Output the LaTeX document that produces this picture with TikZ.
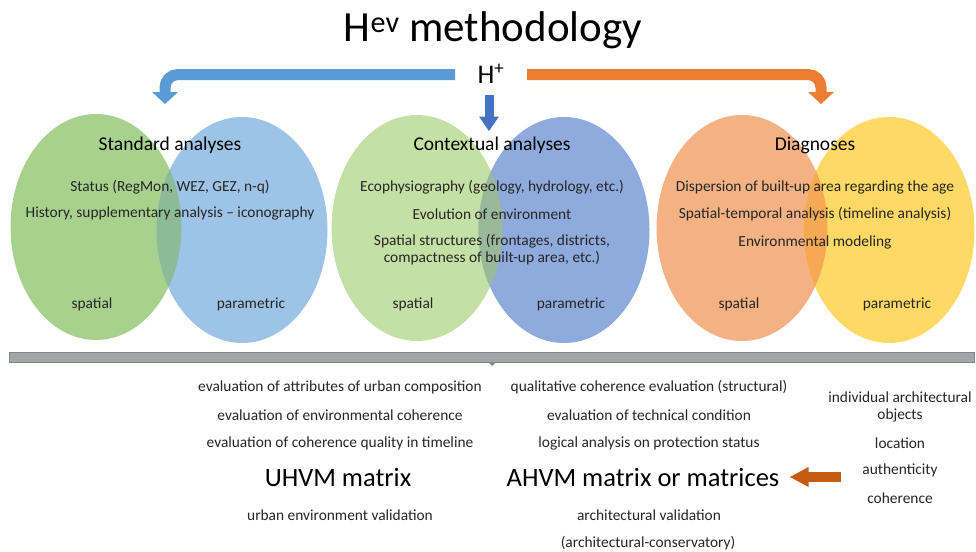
\documentclass[tikz,border=0pt]{standalone}
\usepackage{fontspec}
\setmainfont{Carlito}
\usetikzlibrary{shapes.geometric}
\definecolor{greenA}{HTML}{A9D18E}
\definecolor{blueA}{HTML}{9DC3E6}
\definecolor{mixA}{HTML}{8CBB97}
\definecolor{greenB}{HTML}{C5E0A5}
\definecolor{blueB}{HTML}{8FAADC}
\definecolor{mixB}{HTML}{99B99A}
\definecolor{orangeC}{HTML}{F4B183}
\definecolor{yellowC}{HTML}{FFD966}
\definecolor{mixC}{HTML}{F5A952}
\definecolor{barblue}{HTML}{5B9BD5}
\definecolor{barorange}{HTML}{ED7D31}
\definecolor{downblue}{HTML}{4472C4}
\definecolor{darkorange}{HTML}{C55A11}
\definecolor{barfill}{HTML}{A5A5A5}
\definecolor{barline}{HTML}{7B8794}
\definecolor{txt}{HTML}{262626}
\tikzset{
  venn/.style={ellipse, minimum width=171pt, minimum height=226pt, inner sep=0pt},
  body/.style={text=txt, font=\fontsize{15.4}{17}\selectfont, inner sep=0pt, align=center},
  head/.style={text=black, font=\fontsize{19.5}{22}\selectfont, inner sep=0pt},
  big/.style={text=black, font=\fontsize{26.5}{30}\selectfont, inner sep=0pt},
}
\begin{document}
\begin{tikzpicture}[x=1pt, y=-1pt]
\useasboundingbox (0,0) rectangle (976,551);
\fill[white] (0,0) rectangle (976,551);

% title and source label
\node[text=black, font=\fontsize{43}{46}\selectfont, inner sep=0pt] (title) at (493,30) {H\textsuperscript{ev} methodology};
\node[text=black, font=\fontsize{27}{30}\selectfont, inner sep=0pt] (hplus) at (491,74) {H\textsuperscript{+}};

% three Venn pairs
\node[venn, fill=greenA] (g1) at (96,227) {};
\node[venn, fill=blueA] (b1) at (242,230) {};
\begin{scope}
  \clip (96,227) ellipse [x radius=85.5, y radius=113];
  \fill[mixA] (242,230) ellipse [x radius=85.5, y radius=113];
\end{scope}
\node[venn, fill=greenB] (g2) at (417,228) {};
\node[venn, fill=blueB] (b2) at (564,230) {};
\begin{scope}
  \clip (417,228) ellipse [x radius=85.5, y radius=113];
  \fill[mixB] (564,230) ellipse [x radius=85.5, y radius=113];
\end{scope}
\node[venn, fill=orangeC] (o3) at (742,228) {};
\node[venn, fill=yellowC] (y3) at (889,230) {};
\begin{scope}
  \clip (742,228) ellipse [x radius=85.5, y radius=113];
  \fill[mixC] (889,230) ellipse [x radius=85.5, y radius=113];
\end{scope}

% bent arrows from H+
\coordinate (lefttip) at (165,104);
\coordinate (righttip) at (821,104);
\draw[barblue, line width=11pt, rounded corners=13pt] (455,74.5) -- (165,74.5) -- (165,93);
\fill[barblue] (152,92) -- (178,92) -- (lefttip) -- cycle;
\draw[barorange, line width=11pt, rounded corners=13pt] (527,74.5) -- (821,74.5) -- (821,93);
\fill[barorange] (808,92) -- (834,92) -- (righttip) -- cycle;
\coordinate (downtip) at (489,131);
\fill[downblue] (484.5,95) rectangle (493.5,117);
\fill[downblue] (479,116.5) -- (499,116.5) -- (downtip) -- cycle;

% group 1 texts
\node[head] (t1) at (170,145) {Standard analyses};
\node[body] (t1a) at (170,187) {Status (RegMon, WEZ, GEZ, n-q)};
\node[body] (t1b) at (170,213) {History, supplementary analysis -- iconography};
\node[body] (s1) at (92,304) {spatial};
\node[body] (p1) at (251,304) {parametric};

% group 2 texts
\node[head] (t2) at (492,145) {Contextual analyses};
\node[body] (t2a) at (492,187) {Ecophysiography (geology, hydrology, etc.)};
\node[body] (t2b) at (492,214) {Evolution of environment};
\node[body] (t2c) at (492,250) {Spatial structures (frontages, districts,\\compactness of built-up area, etc.)};
\node[body] (s2) at (413,304) {spatial};
\node[body] (p2) at (571,304) {parametric};

% group 3 texts
\node[head] (t3) at (815,145) {Diagnoses};
\node[body] (t3a) at (815,187) {Dispersion of built-up area regarding the age};
\node[body] (t3b) at (815,214) {Spatial-temporal analysis (timeline analysis)};
\node[body] (t3c) at (815,242) {Environmental modeling};
\node[body] (s3) at (739,304) {spatial};
\node[body] (p3) at (897,304) {parametric};

% separator bar
\node[draw=barline, fill=barfill, line width=0.8pt, minimum width=965pt, minimum height=10pt, inner sep=0pt] (sep) at (492,357) {};
\coordinate (septip) at (492,366);
\fill[barline] (488,362) -- (496,362) -- (septip) -- cycle;

% urban column
\node[body] (u1) at (340,387) {evaluation of attributes of urban composition};
\node[body] (u2) at (340,415) {evaluation of environmental coherence};
\node[body] (u3) at (340,443) {evaluation of coherence quality in timeline};
\node[big] (uhvm) at (338,477) {UHVM matrix};
\node[body] (u4) at (340,515) {urban environment validation};

% architectural column
\node[body] (a1) at (649,387) {qualitative coherence evaluation (structural)};
\node[body] (a2) at (649,415) {evaluation of technical condition};
\node[body] (a3) at (649,443) {logical analysis on protection status};
\node[big] (ahvm) at (643,477) {AHVM matrix or matrices};
\node[body] (a4) at (649,515) {architectural validation};
\node[body] (a5) at (648,543) {(architectural-conservatory)};

% object criteria
\node[body] (o1) at (900,407) {individual architectural\\objects};
\node[body] (o2) at (900,443) {location};
\node[body] (o3) at (900,470) {authenticity};
\node[body] (o4) at (900,498) {coherence};

% arrow from object criteria to AHVM
\coordinate (ahvmtip) at (790,477);
\fill[darkorange] (808,472) rectangle (841,482);
\fill[darkorange] (808.5,467) -- (808.5,487) -- (ahvmtip) -- cycle;
\end{tikzpicture}
\end{document}
